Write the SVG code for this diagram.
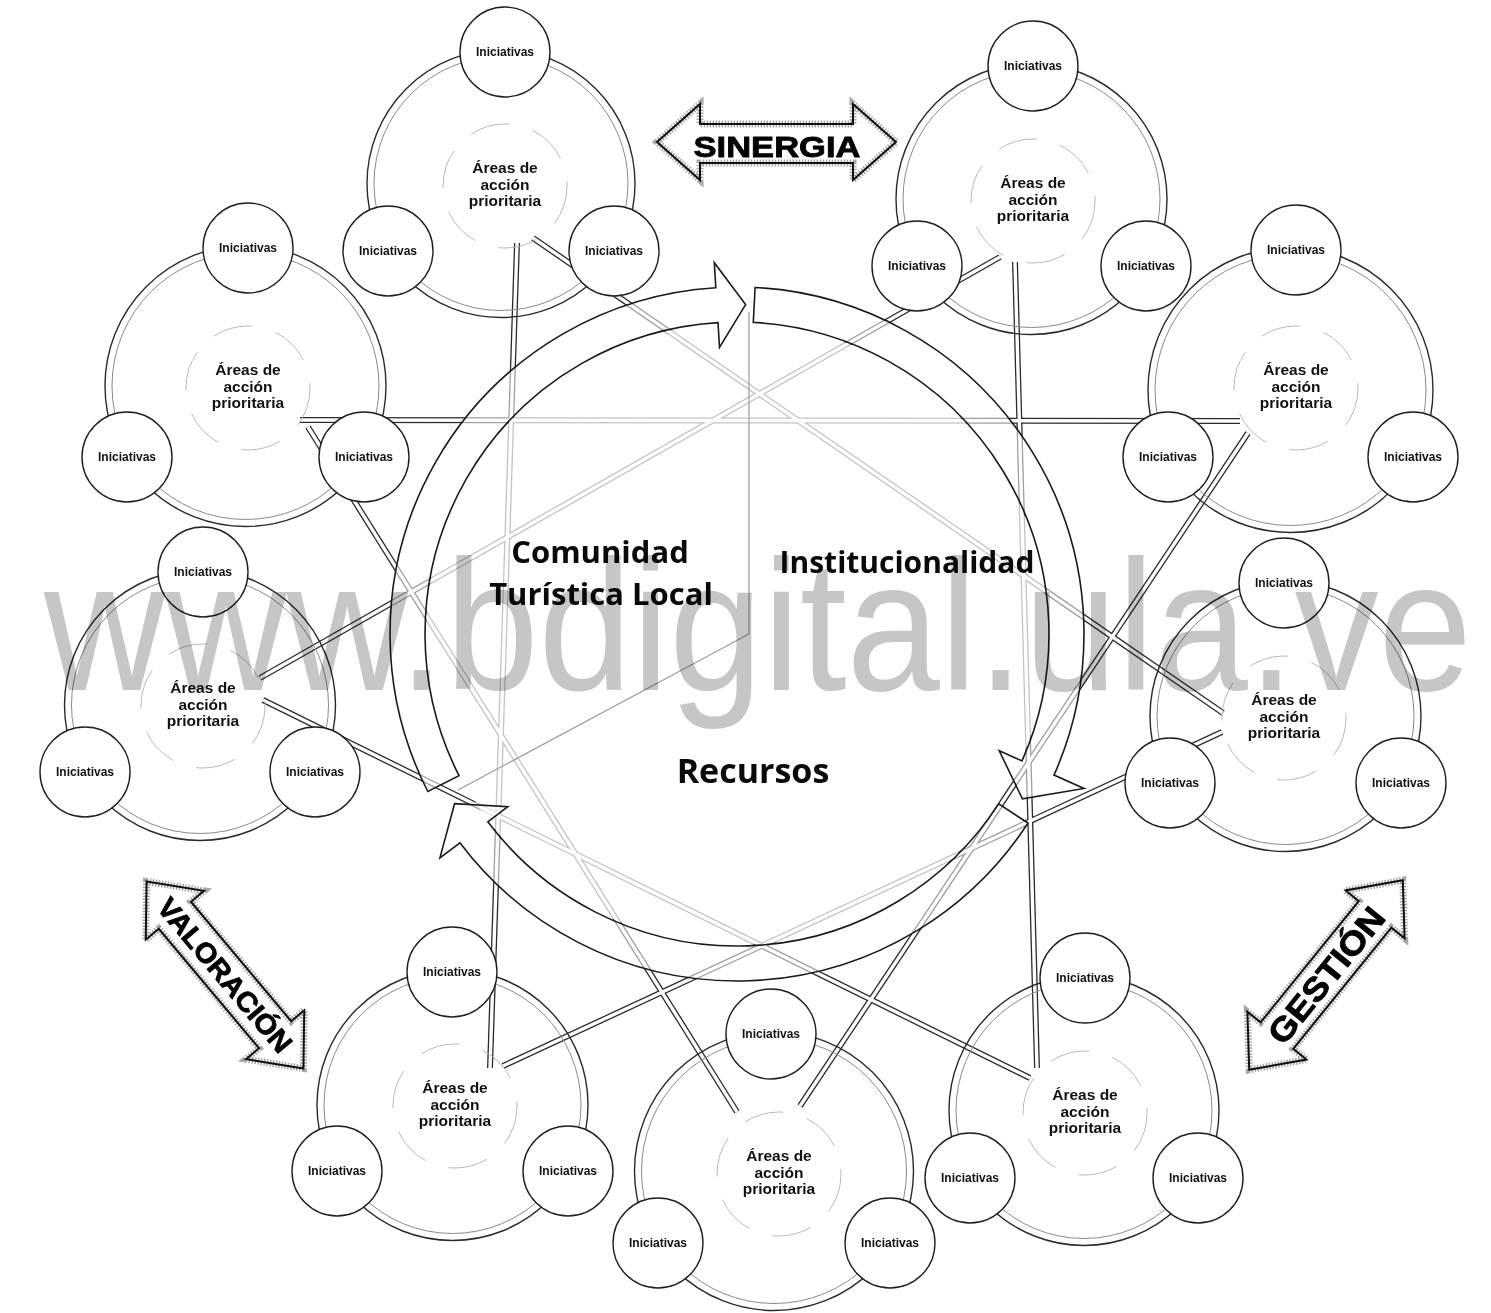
<svg xmlns="http://www.w3.org/2000/svg" xmlns:xlink="http://www.w3.org/1999/xlink" width="1491" height="1313" viewBox="0 0 1491 1313">
<style>
.ring{fill:none;stroke:#2a2a2a;stroke-width:1.4}
.ring2{fill:none;stroke:#8a8a8a;stroke-width:1}
.inner{fill:none;stroke:#b0b0b0;stroke-width:0.9;stroke-dasharray:40 24}
.small{fill:#fff;stroke:#1e1e1e;stroke-width:1.4}
.ini{font-family:"Liberation Sans",Arial,sans-serif;font-weight:bold;font-size:12px;fill:#111;text-anchor:middle}
.area{font-family:"Liberation Sans",Arial,sans-serif;font-weight:bold;font-size:15.5px;fill:#111;text-anchor:middle}
.pipeO{stroke:#2a2a2a;stroke-width:6;fill:none}
.pipeI{stroke:#fff;stroke-width:3.4;fill:none}
.seg{fill:#fff;fill-opacity:0.55;stroke:#1a1a1a;stroke-width:1.6;stroke-linejoin:miter}
.div{stroke:#9a9a9a;stroke-width:1.2;fill:none}
.big{font-family:"Open Sans",sans-serif;font-weight:bold;fill:#0a0a0a;text-anchor:middle}
.dbl{fill:#fff;stroke:#a8a8a8;stroke-width:7;stroke-dasharray:1.5 1.5;stroke-linejoin:miter}
.dblo{fill:none;stroke:#111;stroke-width:2;stroke-linejoin:miter}
.dtext{font-family:"Liberation Sans",Arial,sans-serif;font-weight:bold;fill:#000;stroke:#000;stroke-width:0.8;text-anchor:middle}
.wm{font-family:"Liberation Sans",Arial,sans-serif;fill:#c6c6c6;mix-blend-mode:multiply}
</style>
<defs>
<path id="p1" d="M517,243 L490,1068"/>
<path id="p2" d="M1015,262 L1037,1068"/>
<path id="p3" d="M300,420 L1240,421"/>
<path id="p4" d="M533,238 L1223,713"/>
<path id="p5" d="M1000,257 L260,678"/>
<path id="p6" d="M308,427 L737,1112"/>
<path id="p7" d="M1248,433 L800,1106"/>
<path id="p8" d="M263,700 L1030,1078"/>
<path id="p9" d="M1222,732 L503,1066"/>
</defs>
<rect width="1491" height="1313" fill="#fff"/>

<g id="connectors">
<use href="#p1" class="pipeO"/><use href="#p2" class="pipeO"/><use href="#p3" class="pipeO"/>
<use href="#p4" class="pipeO"/><use href="#p5" class="pipeO"/><use href="#p6" class="pipeO"/>
<use href="#p7" class="pipeO"/><use href="#p8" class="pipeO"/><use href="#p9" class="pipeO"/>
<use href="#p1" class="pipeI"/><use href="#p2" class="pipeI"/><use href="#p3" class="pipeI"/>
<use href="#p4" class="pipeI"/><use href="#p5" class="pipeI"/><use href="#p6" class="pipeI"/>
<use href="#p7" class="pipeI"/><use href="#p8" class="pipeI"/><use href="#p9" class="pipeI"/>
</g>

<g id="cycle">
<circle cx="737" cy="634" r="311" fill="#fff" fill-opacity="0.72"/>
<path class="seg" d="M427.8,791.5 A347,347 0 0,1 715.8,287.7 L714.3,262.7 L745.6,304.6 L719.5,347.5 L718,322.6 A312,312 0 0,0 459,775.6 Z"/>
<path class="seg" d="M755.1,287.5 A347,347 0 0,1 1054,775.1 L1084,788.5 L1022.4,798.8 L999.2,750.7 L1022,760.9 A312,312 0 0,0 753.3,322.4 Z"/>
<path class="seg" d="M1028,823 A347,347 0 0,1 459.9,842.8 L439.9,857.9 L454.6,803.7 L507.8,806.7 L487.8,821.8 A312,312 0 0,0 998.7,803.9 Z"/>
<path class="div" d="M749,312 L749,634 L458,790"/>
</g>

<g id="cluster1">
<circle class="ring" cx="501" cy="183.5" r="134"/><circle class="ring2" cx="501" cy="183.5" r="127"/>
<circle class="inner" cx="505" cy="186" r="62"/>
<circle class="small" cx="505" cy="52" r="45"/><circle class="small" cx="388" cy="251" r="45"/><circle class="small" cx="614" cy="251" r="45"/>
<text class="area" x="505" y="173">Áreas de</text><text class="area" x="505" y="190">acción</text><text class="area" x="505" y="206">prioritaria</text>
<text class="ini" x="505" y="56">Iniciativas</text><text class="ini" x="388" y="255">Iniciativas</text><text class="ini" x="614" y="255">Iniciativas</text>
</g>

<g id="cluster2">
<circle class="ring" cx="1031.5" cy="199" r="135.5"/><circle class="ring2" cx="1031.5" cy="199" r="128.5"/>
<circle class="inner" cx="1033" cy="201" r="62"/>
<circle class="small" cx="1033" cy="66" r="45"/><circle class="small" cx="917" cy="266" r="45"/><circle class="small" cx="1146" cy="266" r="45"/>
<text class="area" x="1033" y="188">Áreas de</text><text class="area" x="1033" y="205">acción</text><text class="area" x="1033" y="221">prioritaria</text>
<text class="ini" x="1033" y="70">Iniciativas</text><text class="ini" x="917" y="270">Iniciativas</text><text class="ini" x="1146" y="270">Iniciativas</text>
</g>

<g id="cluster3">
<circle class="ring" cx="1290.5" cy="390" r="142.5"/><circle class="ring2" cx="1290.5" cy="390" r="135.5"/>
<circle class="inner" cx="1296" cy="388" r="62"/>
<circle class="small" cx="1296" cy="250" r="45"/><circle class="small" cx="1168" cy="457" r="45"/><circle class="small" cx="1413" cy="457" r="45"/>
<text class="area" x="1296" y="375">Áreas de</text><text class="area" x="1296" y="392">acción</text><text class="area" x="1296" y="408">prioritaria</text>
<text class="ini" x="1296" y="254">Iniciativas</text><text class="ini" x="1168" y="461">Iniciativas</text><text class="ini" x="1413" y="461">Iniciativas</text>
</g>

<g id="cluster4">
<circle class="ring" cx="245.5" cy="386" r="140.5"/><circle class="ring2" cx="245.5" cy="386" r="133.5"/>
<circle class="inner" cx="248" cy="388" r="62"/>
<circle class="small" cx="248" cy="248" r="45"/><circle class="small" cx="127" cy="457" r="45"/><circle class="small" cx="364" cy="457" r="45"/>
<text class="area" x="248" y="375">Áreas de</text><text class="area" x="248" y="392">acción</text><text class="area" x="248" y="408">prioritaria</text>
<text class="ini" x="248" y="252">Iniciativas</text><text class="ini" x="127" y="461">Iniciativas</text><text class="ini" x="364" y="461">Iniciativas</text>
</g>

<g id="cluster5">
<circle class="ring" cx="200" cy="705" r="135.5"/><circle class="ring2" cx="200" cy="705" r="128.5"/>
<circle class="inner" cx="203" cy="706" r="62"/>
<circle class="small" cx="203" cy="572" r="45"/><circle class="small" cx="85" cy="772" r="45"/><circle class="small" cx="315" cy="772" r="45"/>
<text class="area" x="203" y="693">Áreas de</text><text class="area" x="203" y="710">acción</text><text class="area" x="203" y="726">prioritaria</text>
<text class="ini" x="203" y="576">Iniciativas</text><text class="ini" x="85" y="776">Iniciativas</text><text class="ini" x="315" y="776">Iniciativas</text>
</g>

<g id="cluster6">
<circle class="ring" cx="1285.5" cy="716" r="135.5"/><circle class="ring2" cx="1285.5" cy="716" r="128.5"/>
<circle class="inner" cx="1284" cy="718" r="62"/>
<circle class="small" cx="1284" cy="583" r="45"/><circle class="small" cx="1170" cy="783" r="45"/><circle class="small" cx="1401" cy="783" r="45"/>
<text class="area" x="1284" y="705">Áreas de</text><text class="area" x="1284" y="722">acción</text><text class="area" x="1284" y="738">prioritaria</text>
<text class="ini" x="1284" y="587">Iniciativas</text><text class="ini" x="1170" y="787">Iniciativas</text><text class="ini" x="1401" y="787">Iniciativas</text>
</g>

<g id="cluster7">
<circle class="ring" cx="452.5" cy="1105" r="135.5"/><circle class="ring2" cx="452.5" cy="1105" r="128.5"/>
<circle class="inner" cx="455" cy="1106" r="62"/>
<circle class="small" cx="452" cy="972" r="45"/><circle class="small" cx="337" cy="1171" r="45"/><circle class="small" cx="568" cy="1171" r="45"/>
<text class="area" x="455" y="1093">Áreas de</text><text class="area" x="455" y="1110">acción</text><text class="area" x="455" y="1126">prioritaria</text>
<text class="ini" x="452" y="976">Iniciativas</text><text class="ini" x="337" y="1175">Iniciativas</text><text class="ini" x="568" y="1175">Iniciativas</text>
</g>

<g id="cluster8">
<circle class="ring" cx="774" cy="1171" r="139.5"/><circle class="ring2" cx="774" cy="1171" r="132.5"/>
<circle class="inner" cx="779" cy="1174" r="62"/>
<circle class="small" cx="771" cy="1034" r="45"/><circle class="small" cx="658" cy="1243" r="45"/><circle class="small" cx="890" cy="1243" r="45"/>
<text class="area" x="779" y="1161">Áreas de</text><text class="area" x="779" y="1178">acción</text><text class="area" x="779" y="1194">prioritaria</text>
<text class="ini" x="771" y="1038">Iniciativas</text><text class="ini" x="658" y="1247">Iniciativas</text><text class="ini" x="890" y="1247">Iniciativas</text>
</g>

<g id="cluster9">
<circle class="ring" cx="1084" cy="1110.5" r="135"/><circle class="ring2" cx="1084" cy="1110.5" r="128"/>
<circle class="inner" cx="1085" cy="1113" r="62"/>
<circle class="small" cx="1085" cy="978" r="45"/><circle class="small" cx="970" cy="1178" r="45"/><circle class="small" cx="1198" cy="1178" r="45"/>
<text class="area" x="1085" y="1100">Áreas de</text><text class="area" x="1085" y="1117">acción</text><text class="area" x="1085" y="1133">prioritaria</text>
<text class="ini" x="1085" y="982">Iniciativas</text><text class="ini" x="970" y="1182">Iniciativas</text><text class="ini" x="1198" y="1182">Iniciativas</text>
</g>

<g id="sinergia">
<path class="dbl" d="M657,142 L700,104 L700,124 L853,124 L853,104 L896,142 L853,180 L853,163 L700,163 L700,180 Z"/>
<path class="dblo" d="M657,142 L700,104 L700,124 L853,124 L853,104 L896,142 L853,180 L853,163 L700,163 L700,180 Z"/>
<text class="dtext" x="777" y="157" font-size="30" textLength="167" lengthAdjust="spacingAndGlyphs">SINERGIA</text>
</g>

<g id="valoracion" transform="translate(225,975) rotate(50)">
<path class="dbl" d="M-122,0 L-78,-38 L-78,-21 L78,-21 L78,-38 L122,0 L78,38 L78,21 L-78,21 L-78,38 Z"/>
<path class="dblo" d="M-122,0 L-78,-38 L-78,-21 L78,-21 L78,-38 L122,0 L78,38 L78,21 L-78,21 L-78,38 Z"/>
<text class="dtext" x="0" y="10" font-size="28" textLength="192" lengthAdjust="spacingAndGlyphs">VALORACIÓN</text>
</g>

<g id="gestion" transform="translate(1326,975) rotate(-51)">
<path class="dbl" d="M-122,0 L-78,-38 L-78,-21 L78,-21 L78,-38 L122,0 L78,38 L78,21 L-78,21 L-78,38 Z"/>
<path class="dblo" d="M-122,0 L-78,-38 L-78,-21 L78,-21 L78,-38 L122,0 L78,38 L78,21 L-78,21 L-78,38 Z"/>
<text class="dtext" x="0" y="12" font-size="33" textLength="165" lengthAdjust="spacingAndGlyphs">GESTIÓN</text>
</g>

<g id="labels">
<text class="big" x="600" y="563" font-size="31">Comunidad</text>
<text class="big" x="601" y="605" font-size="31">Turística Local</text>
<text class="big" x="907" y="573" font-size="30">Institucionalidad</text>
<text class="big" x="753" y="783" font-size="34">Recursos</text>
</g>

<text class="wm" x="44" y="690" font-size="186" textLength="1428" lengthAdjust="spacingAndGlyphs">www.bdigital.ula.ve</text>
</svg>
